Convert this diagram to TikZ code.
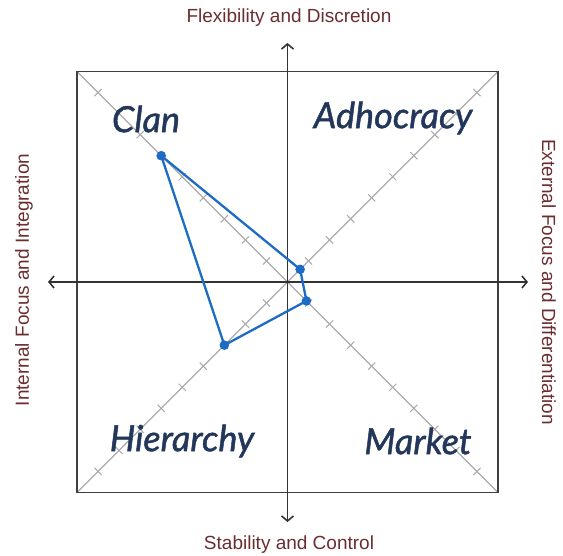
\documentclass[tikz,border=0pt]{standalone}
\usepackage{fontspec}
\setmainfont{Liberation Sans}
\newfontfamily\quadfont[ItalicFeatures={FakeBold=1.3}]{Lato}
\usepackage{tikz}
\usetikzlibrary{calc,arrows.meta}
\definecolor{axislab}{HTML}{6B2D30}
\definecolor{quadlab}{HTML}{22375A}
\definecolor{plotblue}{HTML}{1E6BC6}
\definecolor{diaggray}{HTML}{ABABAB}
\newcommand{\unitlen}{21.05}

\begin{document}
\begin{tikzpicture}[x=1pt, y=-1pt,
    axislabel/.style={text=axislab, font=\fontsize{19}{21}\selectfont},
    quadlabel/.style={text=quadlab, font=\quadfont\itshape\fontsize{36}{38}\selectfont},
    axisline/.style={draw=black!80, line width=1.2pt, {Straight Barb[length=5pt,width=12pt,line width=1.6pt]}-{Straight Barb[length=5pt,width=12pt,line width=1.6pt]}},
    diag/.style={draw=diaggray, line width=1.3pt},
    tickmark/.style={draw=diaggray, line width=1pt},
    plotline/.style={draw=plotblue, line width=2.3pt, line join=round}]
    \useasboundingbox (0,0) rectangle (563,556);
    \coordinate (O) at (287.5,282);
    \coordinate (NW) at (77,71.5);
    \coordinate (NE) at (498,71.5);
    \coordinate (SW) at (77,492.5);
    \coordinate (SE) at (498,492.5);
    \coordinate (W) at (48,282);
    \coordinate (E) at (528,282);
    \coordinate (N) at (287.5,43);
    \coordinate (S) at (287.5,522);

    \draw[diag] (NW) -- (SE);
    \draw[diag] (NE) -- (SW);
    \foreach \sx/\sy in {1/1,1/-1,-1/1,-1/-1}
        \foreach \k in {1,...,9}
            \draw[tickmark] ($(O)+(\sx*\k*\unitlen,\sy*\k*\unitlen)$) ++(3.6*\sy,-3.6*\sx) -- ++(-7.2*\sy,7.2*\sx);
    \draw[draw=black!75, line width=1.6pt] (NW) rectangle (SE);
    \draw[axisline] (W) -- (E);
    \draw[axisline] (S) -- (N);

    \node[quadlabel] (clan) at (146,119) {Clan};
    \node[quadlabel] (adho) at (393,118) {Adhocracy};
    \node[quadlabel] (hier) at (182,441) {Hierarchy};
    \node[quadlabel] (mark) at (418,441) {Market};

    \node[axislabel] (top) at (289,18) {Flexibility  and Discretion};
    \node[axislabel] (bottom) at (289,545) {Stability and Control};
    \node[axislabel, rotate=90] (left) at (24,280) {Internal Focus and Integration};
    \node[axislabel, rotate=-90] (right) at (549,282) {External Focus and Differentiation};

    \coordinate (pclan) at ($(O)+(-6*\unitlen,-6*\unitlen)$);
    \coordinate (padho) at ($(O)+(0.6*\unitlen,-0.6*\unitlen)$);
    \coordinate (pmark) at ($(O)+(0.9*\unitlen,0.9*\unitlen)$);
    \coordinate (phier) at ($(O)+(-3*\unitlen,3*\unitlen)$);
    \draw[plotline] (pclan) -- (padho) -- (pmark) -- (phier) -- cycle;
    \foreach \p in {pclan,padho,pmark,phier}
        \fill[plotblue] (\p) circle (4.8);
\end{tikzpicture}
\end{document}
